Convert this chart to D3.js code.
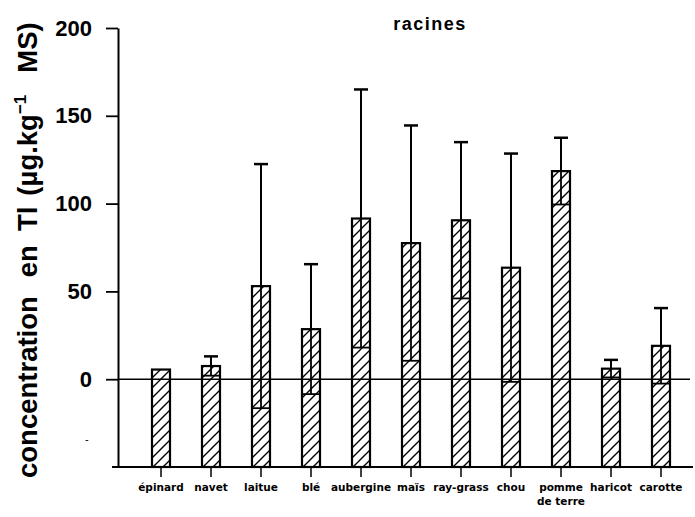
<!DOCTYPE html>
<html>
<head>
<meta charset="utf-8">
<script src="https://cdn.jsdelivr.net/npm/d3@7/dist/d3.min.js"></script>
<style>
    body { margin: 0; background: #fff; }
    svg { display: block; }
</style>
</head>
<body>
<svg id="chart" width="695" height="517"></svg>
<script>

// roots - Tl concentration, mean and standard deviation
var categories = ["épinard", "navet", "laitue", "blé", "aubergine", "maïs", "ray-grass", "chou", "pomme\nde terre", "haricot", "carotte"];
var means = [5.5, 7.5, 53, 28.5, 91.5, 77.5, 90.5, 63.5, 118.5, 6, 19];
var sds = [0, 5.5, 69.5, 37, 73.5, 67, 44.5, 65, 19, 5, 21.5];
var yTicks = [0, 50, 100, 150, 200];

var dataSet = categories.map(function (c, i) {
    return { name: c, mean: means[i], sd: sds[i] };
});

var svg = d3.select("#chart");

var xScale = d3.scaleBand()
    .domain(categories)
    .range([136, 686])
    .paddingInner(0.64)
    .paddingOuter(0.32);

var yScale = d3.scaleLinear()
    .domain([-50, 200])
    .range([467, 28]);

var bw = xScale.bandwidth();

// hatch pattern
svg.append("defs")
    .append("pattern")
    .attr("id", "hatch")
    .attr("patternUnits", "userSpaceOnUse")
    .attr("width", 10)
    .attr("height", 10)
    .append("path")
    .attr("d", "M-1,1 l2,-2 M0,10 l10,-10 M9,11 l2,-2")
    .attr("stroke", "black")
    .attr("stroke-width", 1.4);

// bars start at the bottom of the frame
svg.selectAll("rect.bar")
    .data(dataSet)
    .enter()
    .append("rect")
    .attr("class", "bar")
    .attr("x", function (d) { return xScale(d.name); })
    .attr("y", function (d) { return yScale(d.mean); })
    .attr("width", bw)
    .attr("height", function (d) { return yScale(-50) - yScale(d.mean); })
    .attr("fill", "url(#hatch)")
    .attr("stroke", "black")
    .attr("stroke-width", 2.2);

var errs = svg.selectAll("g.err")
    .data(dataSet.filter(function (d) { return d.sd > 0; }))
    .enter()
    .append("g")
    .attr("class", "err")
    .attr("stroke", "black");

// upper whisker
errs.append("line")
    .attr("x1", function (d) { return xScale(d.name) + bw / 2; })
    .attr("x2", function (d) { return xScale(d.name) + bw / 2; })
    .attr("y1", function (d) { return yScale(d.mean); })
    .attr("y2", function (d) { return yScale(d.mean + d.sd); })
    .attr("stroke-width", 2);

errs.append("line")
    .attr("x1", function (d) { return xScale(d.name) + bw / 2 - 7; })
    .attr("x2", function (d) { return xScale(d.name) + bw / 2 + 7; })
    .attr("y1", function (d) { return yScale(d.mean + d.sd); })
    .attr("y2", function (d) { return yScale(d.mean + d.sd); })
    .attr("stroke-width", 2.5);

// lower whisker, drawn inside the bar
errs.append("line")
    .attr("x1", function (d) { return xScale(d.name) + bw / 2; })
    .attr("x2", function (d) { return xScale(d.name) + bw / 2; })
    .attr("y1", function (d) { return yScale(d.mean); })
    .attr("y2", function (d) { return yScale(d.mean - d.sd); })
    .attr("stroke-width", 1.8);

errs.append("line")
    .attr("x1", function (d) { return xScale(d.name); })
    .attr("x2", function (d) { return xScale(d.name) + bw; })
    .attr("y1", function (d) { return yScale(d.mean - d.sd); })
    .attr("y2", function (d) { return yScale(d.mean - d.sd); })
    .attr("stroke-width", 1.8);

// zero line
svg.append("line")
    .attr("x1", 118)
    .attr("x2", 690)
    .attr("y1", yScale(0))
    .attr("y2", yScale(0))
    .attr("stroke", "black")
    .attr("stroke-width", 1.6);

// bottom line
svg.append("line")
    .attr("x1", 112)
    .attr("x2", 693)
    .attr("y1", yScale(-50))
    .attr("y2", yScale(-50))
    .attr("stroke", "black")
    .attr("stroke-width", 2);

// y axis
var yAxis = svg.append("g")
    .attr("transform", "translate(118,0)")
    .call(d3.axisLeft(yScale)
        .tickValues(yTicks)
        .tickSize(12)
        .tickSizeOuter(0)
        .tickPadding(14));

yAxis.select(".domain").attr("stroke-width", 2);
yAxis.selectAll(".tick line").attr("stroke-width", 1.8);
yAxis.selectAll(".tick text")
    .attr("font-family", "Liberation Sans, Arial, sans-serif")
    .attr("font-weight", "bold")
    .attr("font-size", 22);

// stray dash below zero on the scan
svg.append("text")
    .attr("x", 85)
    .attr("y", 443)
    .attr("font-family", "Liberation Sans, Arial, sans-serif")
    .attr("font-size", 11)
    .text("-");

// x axis ticks + labels
var xAxis = svg.append("g")
    .attr("transform", "translate(0," + yScale(-50) + ")")
    .call(d3.axisBottom(xScale)
        .tickSize(10)
        .tickPadding(14));

xAxis.select(".domain").remove();
xAxis.selectAll(".tick line").attr("stroke-width", 1.5);
xAxis.selectAll(".tick text")
    .attr("font-family", "DejaVu Sans, sans-serif")
    .attr("font-weight", "bold")
    .attr("font-size", 10.5)
    .text(null)
    .selectAll("tspan")
    .data(function (d) { return d.split("\n"); })
    .enter()
    .append("tspan")
    .attr("x", 0)
    .attr("dy", function (d, i) { return i == 0 ? 0 : "1.3em"; })
    .text(function (d) { return d; });

// title
svg.append("text")
    .attr("x", 430)
    .attr("y", 30)
    .attr("text-anchor", "middle")
    .attr("font-family", "Liberation Sans, Arial, sans-serif")
    .attr("font-weight", "bold")
    .attr("font-size", 18)
    .attr("letter-spacing", 1.5)
    .text("racines");

// y label
var yLab = svg.append("text")
    .attr("transform", "translate(37,478) rotate(-90)")
    .attr("font-family", "Liberation Sans, Arial, sans-serif")
    .attr("font-weight", "bold")
    .attr("font-size", 27.5);

yLab.append("tspan").text("concentration");
yLab.append("tspan").attr("dx", 19).text("en");
yLab.append("tspan").attr("dx", 14).text("Tl");
yLab.append("tspan").attr("dx", 11).text("(µg.kg");
yLab.append("tspan").attr("dy", -11).attr("font-size", 17).text("−1");
yLab.append("tspan").attr("dx", 22).attr("dy", 11).text("MS)");

</script>
</body>
</html>
